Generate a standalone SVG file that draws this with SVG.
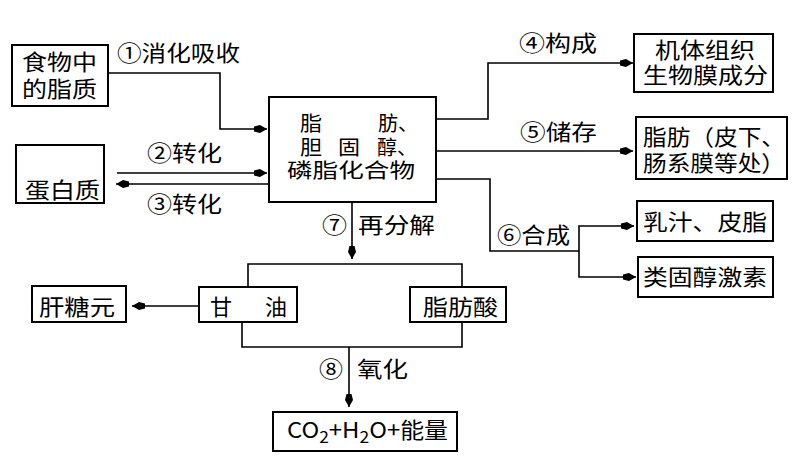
<svg xmlns="http://www.w3.org/2000/svg" width="800" height="469" viewBox="0 0 800 469">
<style>
.bx{fill:#fff;stroke:#000;stroke-width:2}
.ln{fill:none;stroke:#000;stroke-width:1.6}
.ar{marker-end:url(#ah)}
text{font-family:"Noto Sans CJK SC","Noto Sans",sans-serif;font-size:22px;fill:#000}
.cb{font-size:20px}
</style>
<defs>
<marker id="ah" markerUnits="userSpaceOnUse" markerWidth="14" markerHeight="10" refX="13" refY="5" orient="auto">
<path d="M0,2.5 L6,1 L13,5 L6,9 L0,7.5 Z" fill="#000"/>
</marker>
</defs>
<rect width="800" height="469" fill="#fff"/>
<g id="connectors">
<path class="ln ar" d="M108,73 H220 V129 H267"/>
<path class="ln ar" d="M117,173 H267"/>
<path class="ln ar" d="M269,184 H116"/>
<path class="ln ar" d="M436,119 H488 V63 H633"/>
<path class="ln ar" d="M436,151 H633"/>
<path class="ln" d="M436,179 H490 V251 H579"/>
<path class="ln ar" d="M579,251 V226 H634"/>
<path class="ln ar" d="M579,251 V277 H636"/>
<path class="ln ar" d="M352,202 V259"/>
<path class="ln" d="M248,287 V264 H462 V287"/>
<path class="ln ar" d="M199,306 H132"/>
<path class="ln" d="M242,322 V347 H462 V322"/>
<path class="ln ar" d="M349,347 V407"/>
<text x="117" y="61" textLength="123" lengthAdjust="spacingAndGlyphs">①消化吸收</text>
<text x="147" y="161" textLength="75" lengthAdjust="spacingAndGlyphs">②转化</text>
<text x="147" y="212" textLength="75" lengthAdjust="spacingAndGlyphs">③转化</text>
<text x="519" y="51" textLength="78" lengthAdjust="spacingAndGlyphs">④构成</text>
<text x="520" y="140" textLength="77" lengthAdjust="spacingAndGlyphs">⑤储存</text>
<text x="497" y="243" textLength="73" lengthAdjust="spacingAndGlyphs">⑥合成</text>
<text x="322" y="233" textLength="25" lengthAdjust="spacingAndGlyphs">⑦</text>
<text x="358" y="233" textLength="77" lengthAdjust="spacingAndGlyphs">再分解</text>
<text x="319" y="377" textLength="24" lengthAdjust="spacingAndGlyphs">⑧</text>
<text x="357" y="377" textLength="51" lengthAdjust="spacingAndGlyphs">氧化</text>
</g>
<g id="food">
<rect class="bx" x="12" y="45" width="96" height="61"/>
<text x="22" y="70" textLength="75" lengthAdjust="spacingAndGlyphs">食物中</text>
<text x="22" y="97" textLength="75" lengthAdjust="spacingAndGlyphs">的脂质</text>
</g>
<g id="protein">
<rect class="bx" x="16" y="145" width="88" height="58"/>
<text x="25" y="198" textLength="75" lengthAdjust="spacingAndGlyphs">蛋白质</text>
</g>
<g id="lipids">
<rect class="bx" x="269" y="97" width="167" height="105"/>
<text class="cb" x="300" y="131" textLength="22" lengthAdjust="spacingAndGlyphs">脂</text>
<text class="cb" x="378" y="131" textLength="40" lengthAdjust="spacingAndGlyphs">肪、</text>
<text class="cb" x="300" y="155" textLength="22" lengthAdjust="spacingAndGlyphs">胆</text>
<text class="cb" x="338" y="155" textLength="22" lengthAdjust="spacingAndGlyphs">固</text>
<text class="cb" x="377" y="155" textLength="40" lengthAdjust="spacingAndGlyphs">醇、</text>
<text class="cb" x="287" y="178" textLength="128" lengthAdjust="spacingAndGlyphs">磷脂化合物</text>
</g>
<g id="membrane">
<rect class="bx" x="634" y="34" width="139" height="58"/>
<text x="655" y="58" textLength="100" lengthAdjust="spacingAndGlyphs">机体组织</text>
<text x="643" y="83" textLength="125" lengthAdjust="spacingAndGlyphs">生物膜成分</text>
</g>
<g id="storage">
<rect class="bx" x="636" y="117" width="151" height="62"/>
<text x="643" y="145" textLength="142" lengthAdjust="spacingAndGlyphs">脂肪（皮下、</text>
<text x="643" y="171" textLength="142" lengthAdjust="spacingAndGlyphs">肠系膜等处）</text>
</g>
<g id="milk">
<rect class="bx" x="637" y="201" width="136" height="40"/>
<text x="643" y="230" textLength="124" lengthAdjust="spacingAndGlyphs">乳汁、皮脂</text>
</g>
<g id="steroid">
<rect class="bx" x="638" y="257" width="135" height="40"/>
<text x="643" y="285" textLength="124" lengthAdjust="spacingAndGlyphs">类固醇激素</text>
</g>
<g id="glycerol">
<rect class="bx" x="199" y="287" width="98" height="35"/>
<text x="210" y="315">甘</text>
<text x="265" y="315">油</text>
</g>
<g id="fattyacid">
<rect class="bx" x="410" y="287" width="96" height="35"/>
<text x="423" y="315" textLength="75" lengthAdjust="spacingAndGlyphs">脂肪酸</text>
</g>
<g id="glycogen">
<rect class="bx" x="32" y="286" width="94" height="36"/>
<text x="39" y="315" textLength="76" lengthAdjust="spacingAndGlyphs">肝糖元</text>
</g>
<g id="products">
<rect class="bx" x="273" y="412" width="184" height="39"/>
<text x="287" y="438" textLength="161" lengthAdjust="spacingAndGlyphs">CO<tspan font-size="16" dy="5">2</tspan><tspan dy="-5">+H</tspan><tspan font-size="16" dy="5">2</tspan><tspan dy="-5">O+能量</tspan></text>
</g>
</svg>
